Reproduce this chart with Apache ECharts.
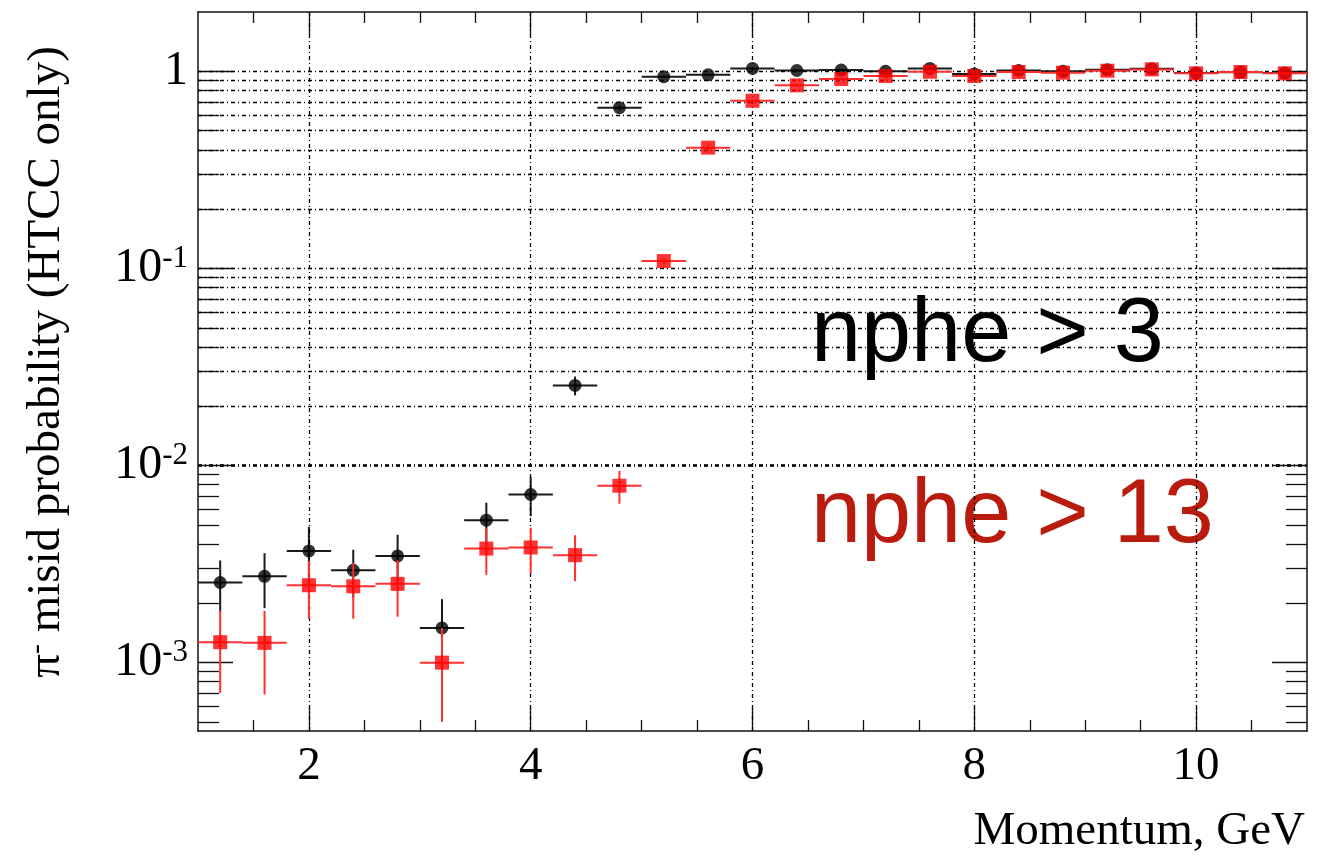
<!DOCTYPE html>
<html>
<head>
<meta charset="utf-8">
<script src="https://cdn.jsdelivr.net/npm/echarts@6/dist/echarts.min.js"></script>
<style>
  html, body { margin: 0; padding: 0; background: #ffffff; }
  #chart { width: 1335px; height: 856px; }
</style>
</head>
<body>
<div id="chart"></div>
<script>
// Momentum bin centres (GeV); every bin is 0.4 GeV wide
const momentum = [1.2, 1.6, 2.0, 2.4, 2.8, 3.2, 3.6, 4.0, 4.4, 4.8, 5.2, 5.6, 6.0,
                  6.4, 6.8, 7.2, 7.6, 8.0, 8.4, 8.8, 9.2, 9.6, 10.0, 10.4, 10.8];
const binHalfWidth = 0.2;

// pi- misidentification probability, nphe > 3
const misidNphe3 = [0.00255, 0.00274, 0.00369, 0.00294, 0.00348, 0.00150, 0.00528, 0.00713,
                    0.0255, 0.654, 0.940, 0.960, 1.035, 1.010, 1.015, 1.000, 1.035, 0.970,
                    1.010, 1.000, 1.020, 1.030, 0.980, 0.990, 0.980];
const misidNphe3Err = [0.00075, 0.00085, 0.00120, 0.00080, 0.00097, 0.00060, 0.00120, 0.00160,
                       0.0028, 0.020, 0.015, 0.012, 0.012, 0.010, 0.010, 0.010, 0.010, 0.010,
                       0.010, 0.010, 0.010, 0.010, 0.010, 0.010, 0.010];

// pi- misidentification probability, nphe > 13
const misidNphe13 = [0.00127, 0.00126, 0.00247, 0.00244, 0.00251, 0.00100, 0.00379, 0.00384,
                     0.00351, 0.00790, 0.109, 0.410, 0.709, 0.849, 0.914, 0.947, 0.995, 0.947,
                     0.992, 0.984, 1.007, 1.023, 0.977, 0.992, 0.977];
const misidNphe13Err = [0.00057, 0.00057, 0.00080, 0.00077, 0.00080, 0.00050, 0.00100, 0.00100,
                        0.00092, 0.00150, 0.004, 0.010, 0.012, 0.012, 0.012, 0.012, 0.012, 0.012,
                        0.012, 0.012, 0.012, 0.012, 0.012, 0.012, 0.012];

// Axis ticks and labels
const xMinorTicks = [1.5, 2.5, 3, 3.5, 4.5, 5, 5.5, 6.5, 7, 7.5, 8.5, 9, 9.5, 10.5];
const xMajorTicks = [2, 4, 6, 8, 10];
const xMajorLabels = ['2', '4', '6', '8', '10'];
const yMajorTicks = [0.001, 0.01, 0.1, 1];
const yMajorLabels = ['{b|10}{s|-3}', '{b|10}{s|-2}', '{b|10}{s|-1}', '{b|1}'];
const yMinorTicks = [0.0005, 0.0006, 0.0007, 0.0008, 0.0009,
                     0.002, 0.003, 0.004, 0.005, 0.006, 0.007, 0.008, 0.009,
                     0.02, 0.03, 0.04, 0.05, 0.06, 0.07, 0.08, 0.09,
                     0.2, 0.3, 0.4, 0.5, 0.6, 0.7, 0.8, 0.9];
const xRange = [1, 11];
const yRange = [0.00045, 2];

const serif = '"Liberation Serif", "Times New Roman", serif';
const sans = '"Liberation Sans", Arial, Helvetica, sans-serif';
const frameStyle = { color: '#111', width: 1.5 };
const tickStyle = { color: '#111', width: 1.3 };
const gridDash = { color: '#000', width: 1.3, type: [4, 3, 1, 3] };

function pairs(values, errs) {
  return momentum.map((m, i) => [m, values[i], errs[i]]);
}

// Horizontal bin-width bar plus vertical error bar for each point
function errorBars(color, width) {
  return function (params, api) {
    const x = api.value(0), y = api.value(1), e = api.value(2);
    const l = api.coord([x - binHalfWidth, y]);
    const r = api.coord([x + binHalfWidth, y]);
    const t = api.coord([x, y + e]);
    const b = api.coord([x, Math.max(y - e, yRange[0])]);
    const style = { stroke: color, lineWidth: width };
    return {
      type: 'group',
      children: [
        { type: 'line', shape: { x1: l[0], y1: l[1], x2: r[0], y2: r[1] }, style },
        { type: 'line', shape: { x1: t[0], y1: t[1], x2: b[0], y2: b[1] }, style }
      ]
    };
  };
}

function xAxisDef(gridIndex, position, ticks, len, withLabels) {
  return {
    type: 'value', gridIndex, position, min: xRange[0], max: xRange[1],
    axisLine: { show: gridIndex === 0, onZero: false, lineStyle: frameStyle },
    axisTick: { show: true, inside: true, length: len, customValues: ticks, lineStyle: tickStyle },
    axisLabel: withLabels ? {
      show: true, customValues: xMajorTicks, margin: 12,
      fontFamily: serif, fontSize: 47, color: '#000',
      formatter: v => { const i = xMajorTicks.indexOf(v); return i >= 0 ? xMajorLabels[i] : ''; }
    } : { show: false },
    splitLine: { show: false }
  };
}

function yAxisDef(gridIndex, position, ticks, len, withLabels) {
  return {
    type: 'log', logBase: 10, gridIndex, position, min: yRange[0], max: yRange[1],
    axisLine: { show: gridIndex === 0, onZero: false, lineStyle: frameStyle },
    axisTick: { show: true, inside: true, length: len, customValues: ticks, lineStyle: tickStyle },
    axisLabel: withLabels ? {
      show: true, customValues: yMajorTicks, margin: 10,
      formatter: v => {
        const i = yMajorTicks.findIndex(t => Math.abs(Math.log10(t) - Math.log10(v)) < 1e-6);
        return i >= 0 ? yMajorLabels[i] : '';
      },
      rich: {
        b: { fontFamily: serif, fontSize: 48, color: '#000', lineHeight: 50 },
        s: { fontFamily: serif, fontSize: 31, color: '#000', verticalAlign: 'top', lineHeight: 28 }
      }
    } : { show: false },
    splitLine: { show: false },
    minorSplitLine: { show: false }
  };
}

const gridRect = { left: 198, top: 12, width: 1109, height: 719, outerBoundsMode: 'none', containLabel: false };

const chart = echarts.init(document.getElementById('chart'), null, { renderer: 'canvas' });
chart.setOption({
  animation: false,
  backgroundColor: '#ffffff',
  grid: [Object.assign({}, gridRect), Object.assign({}, gridRect)],
  xAxis: [
    xAxisDef(0, 'bottom', xMinorTicks, 11, false),
    xAxisDef(0, 'top', xMinorTicks, 11, false),
    xAxisDef(1, 'bottom', xMajorTicks, 23, true),
    xAxisDef(1, 'top', xMajorTicks, 23, false)
  ],
  yAxis: [
    yAxisDef(0, 'left', yMinorTicks, 21, false),
    yAxisDef(0, 'right', yMinorTicks, 21, false),
    yAxisDef(1, 'left', yMajorTicks, 35, true),
    yAxisDef(1, 'right', yMajorTicks, 35, false)
  ],
  series: [
    {
      // dash-dot grid lines
      type: 'scatter', xAxisIndex: 2, yAxisIndex: 2, data: [], silent: true,
      markLine: {
        silent: true, symbol: ['none', 'none'], label: { show: false },
        lineStyle: gridDash, animation: false,
        data: xMajorTicks.map(v => ({ xAxis: v }))
          .concat(yMinorTicks.concat(yMajorTicks).map(v => ({ yAxis: v })))
      }
    },
    {
      name: 'nphe > 3 errors', type: 'custom', xAxisIndex: 2, yAxisIndex: 2,
      renderItem: errorBars('#1a1a1a', 2), data: pairs(misidNphe3, misidNphe3Err), z: 3
    },
    {
      name: 'nphe > 3', type: 'scatter', xAxisIndex: 2, yAxisIndex: 2,
      symbol: 'circle', symbolSize: 13, itemStyle: { color: '#000' },
      data: pairs(misidNphe3, misidNphe3Err), z: 4
    },
    {
      name: 'nphe > 13 errors', type: 'custom', xAxisIndex: 2, yAxisIndex: 2,
      renderItem: errorBars('#ff3030', 2), data: pairs(misidNphe13, misidNphe13Err), z: 5
    },
    {
      name: 'nphe > 13', type: 'scatter', xAxisIndex: 2, yAxisIndex: 2,
      symbol: 'rect', symbolSize: 14, itemStyle: { color: '#ff0000' },
      data: pairs(misidNphe13, misidNphe13Err), z: 6
    }
  ],
  graphic: [
    {
      type: 'text', x: 47, y: 362, rotation: Math.PI / 2, silent: true,
      style: {
        text: '{p|π}{m|-}{t| misid probability (HTCC only)}',
        align: 'center', verticalAlign: 'middle',
        rich: {
          p: { fontFamily: serif, fontSize: 47, fill: '#000', lineHeight: 50 },
          m: { fontFamily: serif, fontSize: 30, fill: '#000', verticalAlign: 'top', lineHeight: 30 },
          t: { fontFamily: serif, fontSize: 47, fill: '#000', lineHeight: 50 }
        }
      }
    },
    {
      type: 'text', right: 30, top: 808, silent: true,
      style: { text: 'Momentum, GeV', fontFamily: serif, fontSize: 47, fill: '#000' }
    },
    {
      type: 'text', x: 811, y: 336, silent: true,
      style: { text: 'nphe > 3', fontFamily: sans, fontSize: 90, fill: '#000', verticalAlign: 'middle' }
    },
    {
      type: 'text', x: 811, y: 517, silent: true,
      style: { text: 'nphe > 13', fontFamily: sans, fontSize: 90, fill: '#b91c0e', verticalAlign: 'middle' }
    }
  ]
});
</script>
</body>
</html>
